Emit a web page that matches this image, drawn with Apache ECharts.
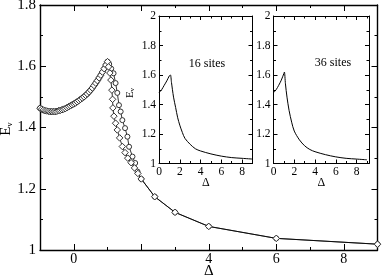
<!DOCTYPE html>
<html><head><meta charset="utf-8">
<script src="https://cdn.jsdelivr.net/npm/echarts@6/dist/echarts.min.js"></script>
<style>html,body{margin:0;padding:0;background:#fff}#c{width:382px;height:277px}</style>
</head><body><div id="c"></div>
<script>
// ---- data ----
const risingX = [-1.00,-0.95,-0.90,-0.85,-0.80,-0.75,-0.70,-0.65,-0.60,-0.55,-0.50,-0.45,-0.40,-0.35,-0.30,-0.25,-0.20,-0.15,-0.10,-0.05,0.00,0.05,0.10,0.15,0.20,0.25,0.30,0.35,0.40,0.45,0.50,0.55,0.60,0.65,0.70,0.75,0.80,0.85,0.90,0.95,1.00];
const risingY = [1.463,1.460,1.457,1.455,1.454,1.453,1.452,1.452,1.452,1.452,1.453,1.455,1.456,1.458,1.460,1.462,1.465,1.468,1.471,1.474,1.477,1.480,1.484,1.488,1.492,1.496,1.500,1.505,1.510,1.516,1.522,1.529,1.537,1.545,1.553,1.562,1.571,1.581,1.592,1.604,1.615];
const branchAX = [1.03,1.07,1.10,1.13,1.15,1.16,1.19,1.24,1.29,1.36,1.44,1.52,1.60,1.70,1.80,1.90];
const branchAY = [1.598,1.578,1.555,1.522,1.492,1.464,1.437,1.414,1.392,1.366,1.338,1.318,1.300,1.285,1.268,1.250];
const branchBX = [1.05,1.11,1.18,1.24,1.29,1.34,1.39,1.44,1.52,1.59,1.64,1.74,1.82,1.89];
const branchBY = [1.607,1.592,1.577,1.545,1.513,1.473,1.452,1.424,1.398,1.370,1.337,1.305,1.284,1.256];
const tailX = [2.0,2.4,3.0,4.0,6.0,9.0];
const tailY = [1.232,1.174,1.123,1.077,1.038,1.019];
const inset16X = [0,0.25,0.5,0.75,1.0,1.1,1.2,1.4,1.6,1.8,2.0,2.25,2.5,3.0,3.5,4.0,5.0,6.0,7.0,8.0,9.0];
const inset16Y = [1.48,1.50,1.53,1.56,1.595,1.60,1.55,1.45,1.38,1.31,1.26,1.21,1.17,1.13,1.10,1.085,1.065,1.05,1.04,1.035,1.03];
const inset36X = [0,0.25,0.5,0.75,1.0,1.05,1.15,1.3,1.5,1.75,2.0,2.5,3.0,3.5,4.0,5.0,6.0,7.0,8.0,9.0];
const inset36Y = [1.48,1.50,1.53,1.565,1.61,1.62,1.54,1.45,1.36,1.28,1.22,1.16,1.12,1.095,1.08,1.06,1.045,1.035,1.03,1.025];
const mainXMajor = [0,2,4,6,8];
const mainXLabels = [0,4,6,8];
const mainXMinor = [-1,1,3,5,7,9];
const mainYMajor = [1,1.2,1.4,1.6,1.8];
const mainYMinor = [1.1,1.3,1.5,1.7];
const insetXMajor = [0,2,4,6,8];
const insetXMinor = [1,3,5,7,9];
const insetYMajor = [1,1.2,1.4,1.6,1.8,2];
const insetYMinor = [1.1,1.3,1.5,1.7,1.9];

const FF = 'Liberation Serif';
const zip = (xs, ys) => xs.map((x, i) => [x, ys[i]]);

function axisSet(kind, gi, min, max, major, minor, labels, fs, lw, margin, majLen, minLen) {
  const pos = kind === 'x' ? ['bottom', 'top'] : ['left', 'right'];
  const base = {type: 'value', gridIndex: gi, min: min, max: max, splitLine: {show: false}, minorTick: {show: false}};
  const line = {show: true, onZero: false, lineStyle: {color: '#000', width: lw}};
  const noLine = {show: false, onZero: false};
  return [
    Object.assign({}, base, {position: pos[0], axisLine: line,
      axisTick: {show: true, inside: true, length: majLen, customValues: major, lineStyle: {color: '#000', width: 1}},
      axisLabel: labels ? {show: true, customValues: labels, fontFamily: FF, fontSize: fs, lineHeight: Math.round(fs * 0.85), color: '#000', margin: margin, hideOverlap: false} : {show: false}}),
    Object.assign({}, base, {position: pos[0], axisLine: noLine,
      axisTick: {show: true, inside: true, length: minLen, customValues: minor, lineStyle: {color: '#000', width: 1}},
      axisLabel: {show: false}}),
    Object.assign({}, base, {position: pos[1], axisLine: line,
      axisTick: {show: true, inside: true, length: majLen, customValues: major, lineStyle: {color: '#000', width: 1}},
      axisLabel: {show: false}}),
    Object.assign({}, base, {position: pos[1], axisLine: noLine,
      axisTick: {show: true, inside: true, length: minLen, customValues: minor, lineStyle: {color: '#000', width: 1}},
      axisLabel: {show: false}})
  ];
}

const xAxis = [].concat(
  axisSet('x', 0, -1, 9, mainXMajor, mainXMinor, null, 14, 1.4, 3, 6, 3),
  axisSet('x', 1, 0, 9, insetXMajor, insetXMinor, insetXMajor, 11.5, 1, 3, 4, 2.5),
  axisSet('x', 2, 0, 9.2, insetXMajor, insetXMinor, insetXMajor, 11.5, 1, 3, 4, 2.5)
);
const yAxis = [].concat(
  axisSet('y', 0, 1, 1.8, mainYMajor, mainYMinor, mainYMajor, 15, 1.4, 4, 6, 3),
  axisSet('y', 1, 1, 2, insetYMajor, insetYMinor, insetYMajor, 11.5, 1, 3, 4, 2.5),
  axisSet('y', 2, 1, 2, insetYMajor, insetYMinor, insetYMajor, 11.5, 1, 3, 4, 2.5)
);
// main x tick labels on a label-only axis in an overlay grid of identical geometry
xAxis.push({type: 'value', gridIndex: 3, position: 'bottom', min: -1, max: 9, interval: 1,
  axisLine: {show: false, onZero: false}, axisTick: {show: false}, splitLine: {show: false},
  axisLabel: {show: true, fontFamily: FF, fontSize: 14, lineHeight: 12, color: '#000', margin: 3, hideOverlap: false,
    showMinLabel: true, showMaxLabel: true,
    formatter: v => (mainXLabels.indexOf(Math.round(v)) >= 0 && Math.abs(v - Math.round(v)) < 1e-6 ? String(Math.round(v)) : '')}});
yAxis.push({type: 'value', gridIndex: 3, min: 1, max: 1.8, show: false, axisLine: {onZero: false}});
// axis names (Δ) carried by the label-less minor-tick axes
Object.assign(xAxis[1], {name: 'Δ', nameLocation: 'middle', nameGap: 16.5,
  nameTextStyle: {fontFamily: FF, fontSize: 15, lineHeight: 10, color: '#000'}});
Object.assign(xAxis[5], {name: 'Δ', nameLocation: 'middle', nameGap: 15,
  nameTextStyle: {fontFamily: FF, fontSize: 12, lineHeight: 8, color: '#000'}});
Object.assign(xAxis[9], {name: 'Δ', nameLocation: 'middle', nameGap: 15,
  nameTextStyle: {fontFamily: FF, fontSize: 12, lineHeight: 8, color: '#000'}});

const chart = echarts.init(document.getElementById('c'), null, {renderer: 'canvas'});
chart.setOption({
  animation: false,
  backgroundColor: '#fff',
  grid: [
    {left: 40, top: 5, width: 337.5, height: 245, outerBoundsMode: 'none', containLabel: false},
    {left: 159, top: 16, width: 93.5, height: 147.5, show: true, backgroundColor: '#fff', borderWidth: 0, outerBoundsMode: 'none', containLabel: false},
    {left: 273.5, top: 16, width: 95.5, height: 147.5, show: true, backgroundColor: '#fff', borderWidth: 0, outerBoundsMode: 'none', containLabel: false},
    {left: 40, top: 5, width: 337.5, height: 245, outerBoundsMode: 'none', containLabel: false}
  ],
  xAxis: xAxis,
  yAxis: yAxis,
  series: [
    {type: 'line', xAxisIndex: 0, yAxisIndex: 0, data: zip(risingX.concat(branchBX, tailX), risingY.concat(branchBY, tailY)),
      symbol: 'circle', symbolSize: 5, showSymbol: true, lineStyle: {color: '#000', width: 0.8},
      itemStyle: {color: '#fff', borderColor: '#333', borderWidth: 1}},
    {type: 'line', xAxisIndex: 0, yAxisIndex: 0, data: zip(risingX.concat(branchAX, tailX), risingY.concat(branchAY, tailY)),
      symbol: 'diamond', symbolSize: 6.5, showSymbol: true, lineStyle: {color: '#000', width: 0.8},
      itemStyle: {color: '#fff', borderColor: '#333', borderWidth: 1}},
    {type: 'line', xAxisIndex: 4, yAxisIndex: 4, data: zip(inset16X, inset16Y), showSymbol: false, smooth: 0.3,
      lineStyle: {color: '#000', width: 1}},
    {type: 'line', xAxisIndex: 8, yAxisIndex: 8, data: zip(inset36X, inset36Y), showSymbol: false, smooth: 0.3,
      lineStyle: {color: '#000', width: 1}}
  ],
  graphic: [
    {type: 'text', x: 207, y: 64, style: {text: '16 sites', fontFamily: FF, fontSize: 12, fill: '#000', align: 'center', verticalAlign: 'middle'}},
    {type: 'text', x: 333, y: 63, style: {text: '36 sites', fontFamily: FF, fontSize: 12, fill: '#000', align: 'center', verticalAlign: 'middle'}},
    {type: 'text', x: 6, y: 129, rotation: Math.PI / 2, style: {text: 'E{s|v}', fontFamily: FF, fontSize: 15, fill: '#000', align: 'center', verticalAlign: 'middle',
      rich: {s: {fontFamily: FF, fontSize: 9, fill: '#000', padding: [7, 0, 0, 0]}}}},
    {type: 'text', x: 130, y: 93, rotation: Math.PI / 2, style: {text: 'E{s|v}', fontFamily: FF, fontSize: 11, fill: '#000', align: 'center', verticalAlign: 'middle',
      rich: {s: {fontFamily: FF, fontSize: 7, fill: '#000', padding: [5, 0, 0, 0]}}}}
  ]
});
</script></body></html>
